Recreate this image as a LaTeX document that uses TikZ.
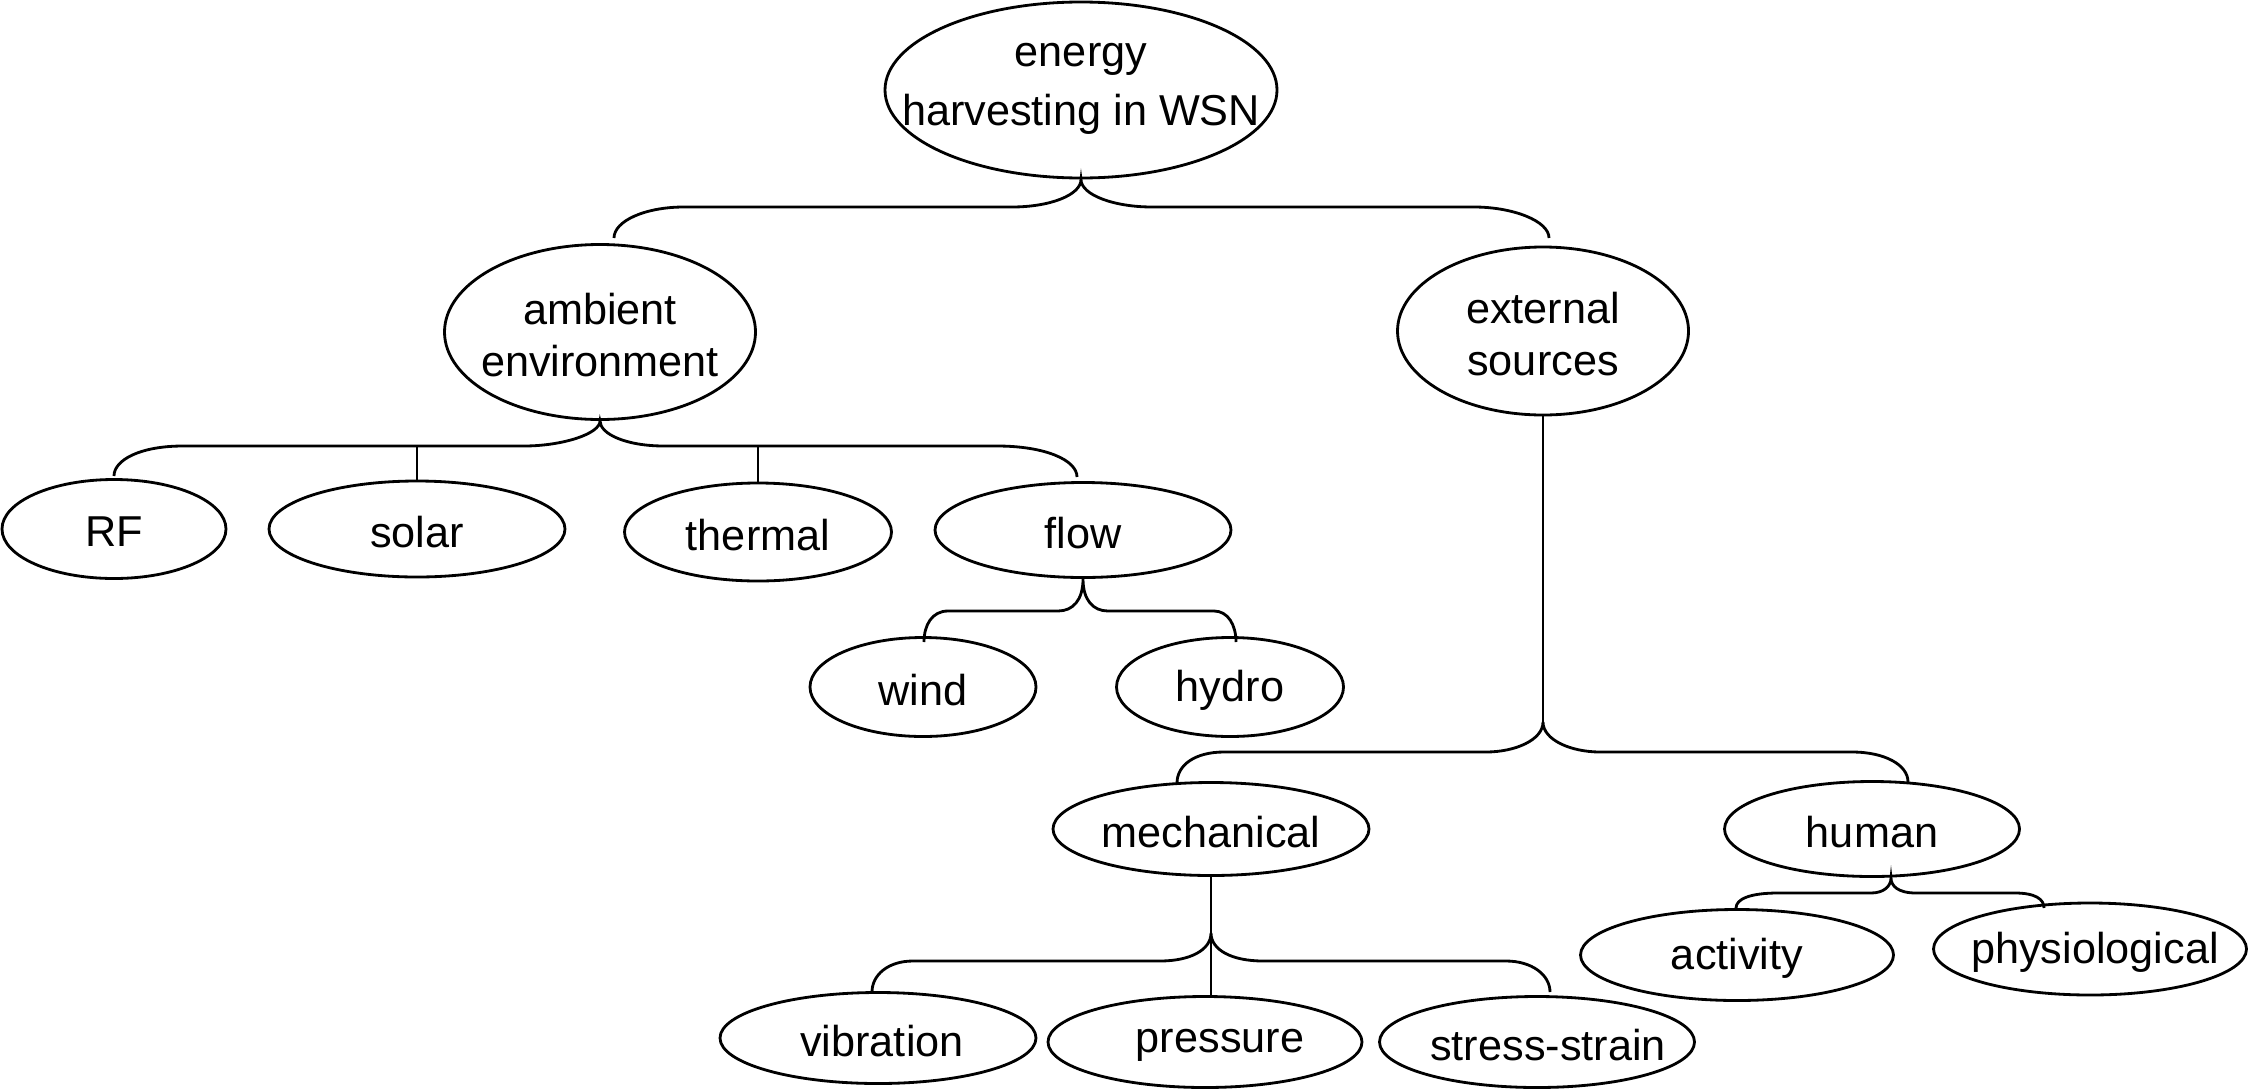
\documentclass[tikz,border=0pt]{standalone}
\usepackage{fontspec}
\setmainfont{Liberation Sans}
\usetikzlibrary{shapes.geometric,calc}
\tikzset{
  el/.style={ellipse, draw, line width=0.8pt, inner sep=0pt},
  lbl/.style={font=\fontsize{12.3}{14.6}\selectfont, align=center, inner sep=0pt, yshift=-0.3mm},
  brace/.style={line width=0.8pt},
  stemline/.style={line width=0.55pt}
}
\newcommand{\elnode}[7][]{% [label opts], name, x, y, w(mm), h(mm), text
  \node[el, minimum width=#5mm, minimum height=#6mm, label={[lbl,#1]center:{#7}}] (#2) at (#3,#4) {};}
\begin{document}
\begin{tikzpicture}[x=0.1mm,y=-0.1mm]
\useasboundingbox (0,0) rectangle (2250,1090);
\elnode[yshift=0.4mm]{top}{1081}{90}{39.2}{17.6}{energy\\[2.3pt]harvesting in WSN}
\elnode[yshift=0mm]{amb}{600}{332}{31.1}{17.5}{ambient\\environment}
\elnode[yshift=0mm]{ext}{1543}{331}{29.1}{16.8}{external\\sources}
\elnode{rf}{114}{529}{22.4}{9.9}{RF}
\elnode{solar}{417}{529}{29.6}{9.6}{solar}
\elnode{thermal}{758}{532}{26.7}{9.8}{thermal}
\elnode{flow}{1083}{530}{29.6}{9.5}{flow}
\elnode{wind}{923}{687}{22.6}{9.9}{wind}
\elnode{hydro}{1230}{687}{22.7}{9.9}{hydro}
\elnode{mech}{1211}{829}{31.6}{9.3}{mechanical}
\elnode{human}{1872}{829}{29.5}{9.5}{human}
\elnode{activity}{1737}{955}{31.3}{9.1}{activity}
\elnode[xshift=0.5mm]{physio}{2090}{949}{31.3}{9.2}{physiological}
\elnode[xshift=0.4mm]{vib}{878}{1038}{31.6}{9.1}{vibration}
\elnode[xshift=1.5mm]{press}{1205}{1042}{31.4}{9.1}{pressure}
\elnode[xshift=1.1mm]{stress}{1537}{1042}{31.5}{9.1}{stress-strain}

% top brace
\coordinate (tL) at (614,238);
\coordinate (tR) at (1549,238);
\draw[brace] (tL) .. controls (614,221) and (645,207) .. (684,207) -- (1012,207)
  .. controls (1050,207) and (1081,195) .. (top.south)
  .. controls (1081,195) and (1114,207) .. (1152,207) -- (1474,207)
  .. controls (1513,207) and (1549,221) .. (tR);

% ambient brace
\coordinate (aL) at (114,476);
\coordinate (aR) at (1077,477);
\coordinate (aH) at (0,446);
\draw[brace] (aL) .. controls (114,460) and (140,446) .. (183,446) -- (524,446)
  .. controls (562,446) and (600,434) .. (amb.south)
  .. controls (600,434) and (626,446) .. (664,446) -- (997,446)
  .. controls (1045,446) and (1077,460) .. (aR);
\draw[stemline] (solar.north) -- (solar.north |- aH);
\draw[stemline] (thermal.north) -- (thermal.north |- aH);

% flow brace
\coordinate (fL) at (924,642);
\coordinate (fR) at (1236,642);
\draw[brace] (fL) .. controls (924,625) and (932,611) .. (948,611) -- (1058,611)
  .. controls (1073,611) and (1083,600) .. (flow.south)
  .. controls (1083,600) and (1093,611) .. (1108,611) -- (1214,611)
  .. controls (1228,611) and (1236,625) .. (fR);

% external stem and brace
\coordinate (eA) at (1543,722);
\coordinate (eL) at (1177,783);
\coordinate (eR) at (1908,782);
\draw[stemline] (ext.south) -- (eA);
\draw[brace] (eL) .. controls (1177,765) and (1195,752) .. (1224,752) -- (1486,752)
  .. controls (1515,752) and (1543,740) .. (eA)
  .. controls (1543,740) and (1571,752) .. (1600,752) -- (1852,752)
  .. controls (1885,752) and (1908,765) .. (eR);

% mechanical stem and brace
\coordinate (mA) at (1211,933);
\coordinate (mL) at (872,992);
\coordinate (mR) at (1550,992);
\draw[stemline] (mech.south) -- (mA);
\draw[brace] (mL) .. controls (872,975) and (888,961) .. (913,961) -- (1160,961)
  .. controls (1190,961) and (1211,950) .. (mA)
  .. controls (1211,950) and (1232,961) .. (1263,961) -- (1506,961)
  .. controls (1532,961) and (1550,975) .. (mR);
\draw[stemline] (mA) -- (mA |- press.north);

% human brace
\coordinate (hA) at ($(human.south)+(19,0)$);
\coordinate (hL) at (1736,908);
\coordinate (hR) at (2044,908);
\draw[brace] (hL) .. controls (1736,899) and (1750,893) .. (1778,893) -- (1871,893)
  .. controls (1884,893) and (1891,886) .. (hA)
  .. controls (1891,886) and (1898,893) .. (1916,893) -- (2015,893)
  .. controls (2035,893) and (2044,899) .. (hR);
\end{tikzpicture}
\end{document}
